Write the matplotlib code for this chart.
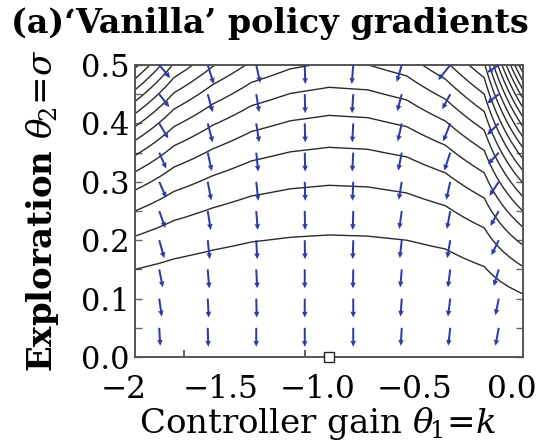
import matplotlib
matplotlib.use("Agg")
import matplotlib.pyplot as plt
import matplotlib.transforms as mtransforms
import numpy as np

plt.rcParams["font.family"] = "DejaVu Serif"
plt.rcParams["mathtext.fontset"] = "dejavuserif"

# cost contours, per controller-gain column: sigma of the lowest contour and the
# power that sets how fast the following contours crowd together
k_grid = [-2.0, -1.8, -1.6, -1.4, -1.2, -1.0, -0.8, -0.6, -0.4, -0.2, 0.0]
sigma_first = [0.150, 0.168, 0.183, 0.197, 0.205, 0.209, 0.207, 0.200, 0.185, 0.155, 0.108]
contour_power = [2.15, 2.10, 2.08, 2.06, 2.04, 2.03, 2.03, 2.04, 2.06, 1.95, 1.92]

# gradient arrows: tails on a grid, components read in screen pixels (right, up)
k_arrow = [-1.875, -1.625, -1.375, -1.125, -0.875, -0.625, -0.375, -0.125]
sigma_arrow = [0.05, 0.10, 0.15, 0.20, 0.25, 0.30, 0.35, 0.40, 0.45, 0.50]
arrow_dx = [
    [1.0, 0.5, 0.0, 0.0, 0.0, -1.0, -2.0, -3.3],
    [2.5, 1.0, 0.5, 0.0, 0.0, -1.2, -2.3, -3.3],
    [3.5, 1.5, 1.0, 0.0, -0.3, -1.5, -2.3, -5.0],
    [5.0, 2.0, 1.0, 0.3, -0.5, -2.0, -3.0, -7.3],
    [6.0, 3.0, 1.5, 0.3, -0.5, -2.5, -3.3, -8.3],
    [7.0, 3.5, 2.0, 0.5, -0.8, -3.0, -4.0, -9.3],
    [7.0, 4.0, 2.0, 0.5, -1.0, -3.5, -6.0, -10.7],
    [9.0, 5.0, 3.0, 0.5, -1.0, -4.0, -7.0, -11.7],
    [10.0, 5.0, 3.0, 0.5, -1.2, -4.5, -8.0, -11.7],
    [11.0, 6.0, 4.0, 0.5, -1.5, -5.0, -12.0, -11.7],
]
arrow_dy = [
    [-18, -19, -19, -19, -19, -18, -18, -18],
    [-18, -19, -19, -19, -19, -18, -18, -16.7],
    [-18, -19, -19, -19, -19, -18, -18, -16.7],
    [-18, -19, -19, -19, -19, -18, -18, -15],
    [-17, -19, -19, -19, -19, -18, -18, -15],
    [-16, -18.5, -19, -19, -19, -18, -18, -14],
    [-16, -18.5, -19, -19, -19, -18, -18, -11.7],
    [-15, -19, -19, -19, -19, -18, -18, -11.7],
    [-13, -18, -18, -19, -19, -17, -15, -9.3],
    [-13, -19, -18, -19, -19, -17, -15, -7.7],
]
optimum = (-1.0, 0.0)

xtick_vals = [-2.0, -1.5, -1.0, -0.5, 0.0]
xtick_text = ["\u22122", "\u22121.5", "\u22121.0", "\u22120.5", "0.0"]
ytick_vals = [0.0, 0.1, 0.2, 0.3, 0.4, 0.5]
ytick_text = ["0.0", "0.1", "0.2", "0.3", "0.4", "0.5"]

fig = plt.figure(figsize=(5.45, 4.44), dpi=100)
ax = fig.add_axes([135 / 545, 1 - 357 / 444, 388 / 545, 292 / 444])

sig_rows = np.linspace(0.0, 0.56, 57)
Z = (sig_rows[:, None] / np.array(sigma_first)[None, :]) ** np.array(contour_power)[None, :]
ax.contour(k_grid, sig_rows, Z, levels=np.arange(1, 50), colors="#2a2a2a", linewidths=1.0)

K, S = np.meshgrid(k_arrow, sigma_arrow)
ax.quiver(K, S, np.array(arrow_dx), np.array(arrow_dy), angles="uv", scale_units="dots",
          scale=1, units="dots", width=2.0, headwidth=2.8, headlength=3.0,
          headaxislength=2.8, color="#3039a8", zorder=3)

ax.plot(*optimum, "s", mfc="white", mec="#222222", ms=7, mew=1.0, clip_on=False, zorder=6)

ax.set_xlim(-2, 0)
ax.set_ylim(0, 0.5)
ax.set_xticks(xtick_vals)
ax.set_xticklabels(xtick_text)
ax.set_xticks([-1.75, -1.125, -0.5], minor=True)
ax.set_yticks(ytick_vals)
ax.set_yticklabels(ytick_text)
ax.set_yticks(np.arange(0.05, 0.5, 0.1), minor=True)
ax.tick_params(axis="x", which="major", length=0, labelsize=22.5, pad=12)
ax.tick_params(axis="x", which="minor", direction="in", length=5, width=1.2, color="#444444")
ax.tick_params(axis="y", which="both", direction="in", length=5, width=1.0, color="#666666",
               right=True, labelsize=22, pad=4)
shift = mtransforms.ScaledTranslation(-11 / 100, 0, fig.dpi_scale_trans)
for lab in ax.get_xticklabels():
    lab.set_transform(lab.get_transform() + shift)
for sp in ax.spines.values():
    sp.set_color("#555555")
    sp.set_linewidth(1.4)

ax.set_xlabel(r"Controller gain $\theta_{\!1}\!=\!k$", fontsize=24.5, labelpad=0)
ax.xaxis.set_label_coords(0.47, -0.165)
ax.set_ylabel(r"Exploration $\theta_{\!2}\!=\!\sigma$", fontsize=24.5, fontweight="bold")
ax.yaxis.set_label_coords(-0.19, 0.5)
fig.text(0.02, 0.985, "(a)\u2018Vanilla\u2019 policy gradients", fontsize=24, fontweight="bold",
         ha="left", va="top")

fig.savefig("out.png", dpi=100)
